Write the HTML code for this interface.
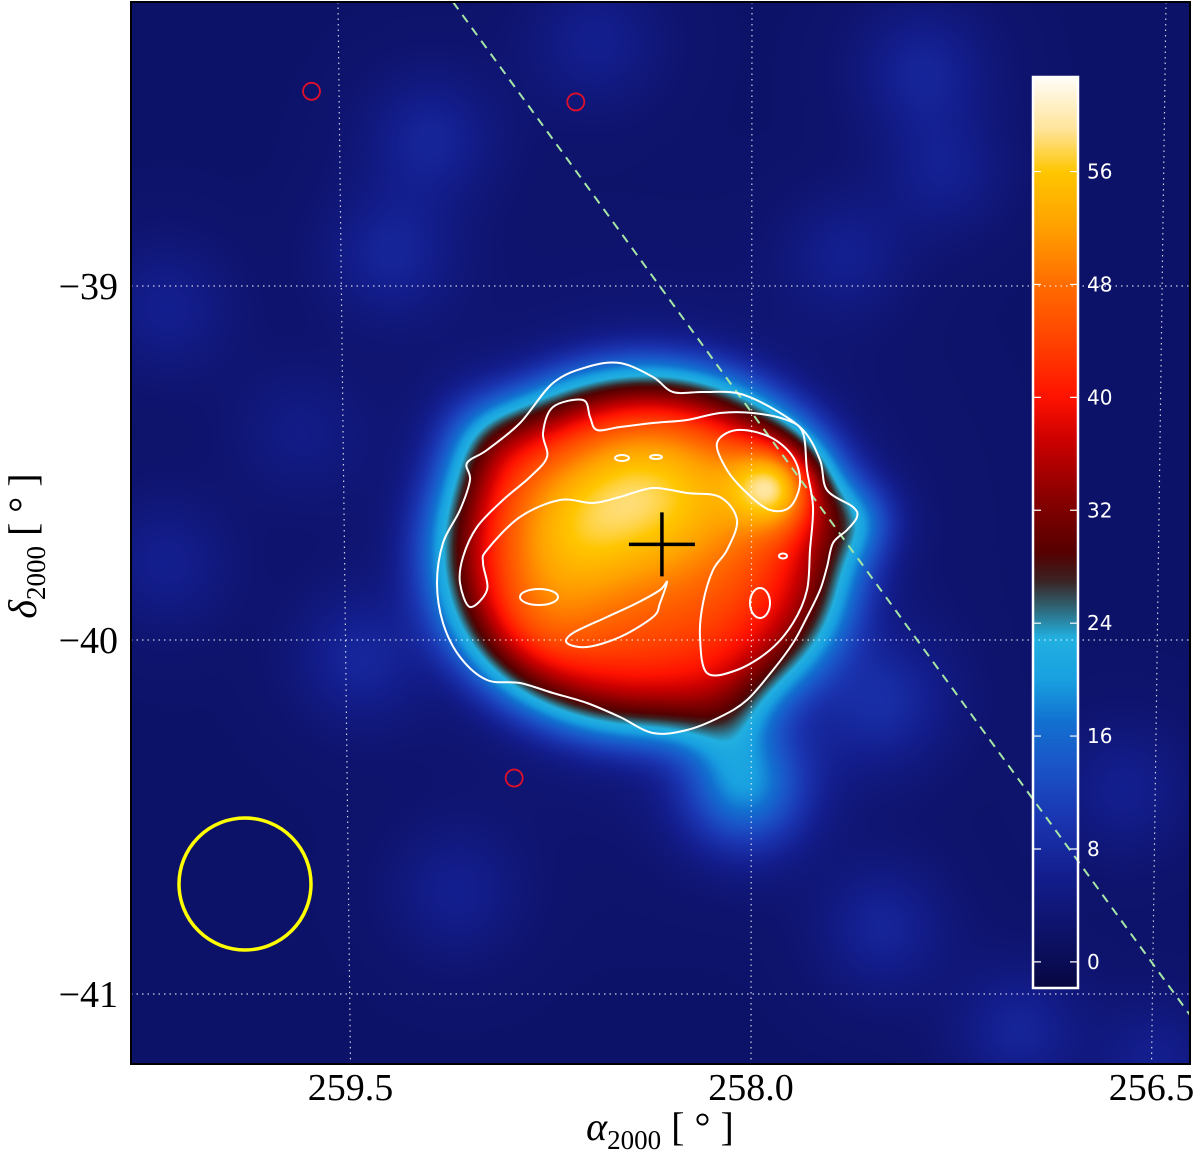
<!DOCTYPE html>
<html><head><meta charset="utf-8"><style>
html,body{margin:0;padding:0;background:#fff;}
#wrap{position:relative;width:1200px;height:1158px;overflow:hidden;font-family:"Liberation Serif",serif;}
canvas{position:absolute;left:0;top:0;}
svg{position:absolute;left:0;top:0;}
</style></head><body>
<div id="wrap">
<canvas id="cv" width="1200" height="1158"></canvas>
<svg id="sv" width="1200" height="1158"></svg>
</div>
<script>
// ---- data arrays (sky coordinates, degrees) ----
const coreRa=[258.40], coreDec=[-39.75], coreAmp=[36], coreSx=[0.78], coreSy=[0.52];
const blobRa =[258.40,258.66,258.25,257.91,258.02,259.00,257.59,259.17,258.57,257.38,257.30,259.32,260.14,260.16,259.45,257.51,259.10,257.00,256.62,257.66,257.52,259.66,256.49,258.80,258.08,258.45];
const blobDec=[-39.75,-39.68,-39.58,-39.56,-40.42,-39.41,-39.66,-38.58,-38.31,-38.39,-38.68,-38.91,-39.06,-39.78,-40.05,-40.81,-40.71,-41.10,-40.42,-38.91,-40.17,-39.41,-41.19,-39.95,-40.28,-39.52];
const blobAmp=[7,10,9,18,15,6,7,5,4,5,4,5,4,4,5,5,4,5,4,4,6,3,4,4,5,3];
const blobSig=[0.36,0.16,0.17,0.085,0.13,0.1,0.08,0.13,0.13,0.13,0.12,0.13,0.13,0.13,0.13,0.13,0.13,0.13,0.13,0.12,0.14,0.13,0.12,0.12,0.1,0.12];
const baseLevel=[2.2];
const cbTicks=[0,8,16,24,32,40,48,56];
const decTicks=[-39,-40,-41];
const raTicks=[259.5,258.0,256.5];
const cmapVal=[-2,0,6,10,14,17,20,23,25,27,29,33,37,40,44,48,52,56,59,63];
const cmapCol=["#06063e","#0a0c55","#131d8c","#1a34b0","#1a55c8","#1270d0","#18a0e0","#22b0e0","#2f6a7c","#3a2424","#550000","#8a0000","#cc0000","#ff1200","#ff4200","#ff6c00","#ffa000","#ffc600","#ffe49a","#ffffff"];
const srcRa=[259.60,258.64,258.88], srcDec=[-38.45,-38.48,-40.39];

// ---- axes ----
const PL=131,PR=1190,PT=2,PB=1064;
function yDec(d){return 640-(d+40)*354;}
function xRa(r,y){
  const t=(y-PT)/(PB-PT);
  const sc=276-9*t;
  return 752-1*t+(258.0-r)*sc;
}
function raOf(x,y){const t=(y-PT)/(PB-PT);const sc=276-9*t;return 258.0-(x-752+t)/sc;}
function decOf(y){return -40+(640-y)/354;}
const CB={x:1033,w:45,top:77,bot:988,vmin:-1.85,vmax:62.7};
function yCb(v){return CB.bot-(v-CB.vmin)/(CB.vmax-CB.vmin)*(CB.bot-CB.top);}

function hex(c){return [parseInt(c.substr(1,2),16),parseInt(c.substr(3,2),16),parseInt(c.substr(5,2),16)];}
const cmRGB=cmapCol.map(hex);
function cmap(v){
  if(v<=cmapVal[0])return cmRGB[0];
  for(let i=1;i<cmapVal.length;i++){if(v<=cmapVal[i]){const t=(v-cmapVal[i-1])/(cmapVal[i]-cmapVal[i-1]);const a=cmRGB[i-1],b=cmRGB[i];return [a[0]+(b[0]-a[0])*t,a[1]+(b[1]-a[1])*t,a[2]+(b[2]-a[2])*t];}}
  return cmRGB[cmRGB.length-1];
}
function field(ra,dec){
  let v=baseLevel[0];
  const cd=Math.cos(40*Math.PI/180);
  for(let k=0;k<coreRa.length;k++){
    const dx=(ra-coreRa[k])/coreSx[k], dy=(dec-coreDec[k])/coreSy[k];
    const r2=dx*dx+dy*dy; v+=coreAmp[k]*Math.exp(-r2*r2*r2);
  }
  for(let k=0;k<blobRa.length;k++){
    const dx=(ra-blobRa[k])*cd, dy=dec-blobDec[k];
    v+=blobAmp[k]*Math.exp(-(dx*dx+dy*dy)/(2*blobSig[k]*blobSig[k]));
  }
  return v;
}
const cv=document.getElementById('cv'),ctx=cv.getContext('2d');
ctx.fillStyle='#fff';ctx.fillRect(0,0,1200,1158);
const W=PR-PL,H=PB-PT;const img=ctx.createImageData(W,H);
for(let j=0;j<H;j++){const y=PT+j;const dec=decOf(y);
  for(let i=0;i<W;i++){const c=cmap(field(raOf(PL+i,y),dec));const p=(j*W+i)*4;img.data[p]=c[0];img.data[p+1]=c[1];img.data[p+2]=c[2];img.data[p+3]=255;}}
ctx.putImageData(img,PL,PT);
const cbH=CB.bot-CB.top;const cimg=ctx.createImageData(CB.w,cbH);
for(let j=0;j<cbH;j++){const v=CB.vmax-(j/cbH)*(CB.vmax-CB.vmin);const c=cmap(v);for(let i=0;i<CB.w;i++){const p=(j*CB.w+i)*4;cimg.data[p]=c[0];cimg.data[p+1]=c[1];cimg.data[p+2]=c[2];cimg.data[p+3]=255;}}
ctx.putImageData(cimg,CB.x,CB.top);

const NS='http://www.w3.org/2000/svg';const sv=document.getElementById('sv');
function mk(tag,at,parent){const e=document.createElementNS(NS,tag);for(const k in at)e.setAttribute(k,at[k]);(parent||sv).appendChild(e);return e;}
decTicks.forEach(d=>{const y=yDec(d);
  const l=mk('line',{x1:PL,x2:PR,y1:y,y2:y,stroke:'#ffffff','stroke-width':1.2,'stroke-dasharray':'1.5 4',opacity:0.8});
  
  const t=mk('text',{x:118,y:y+13,'text-anchor':'end','font-size':38,'font-family':'"Liberation Serif",serif',fill:'#000'});
  t.textContent='\u2212'+Math.abs(d);
});
raTicks.forEach(r=>{
  const l=mk('line',{x1:xRa(r,PT),x2:xRa(r,PB),y1:PT,y2:PB,stroke:'#ffffff','stroke-width':1.2,'stroke-dasharray':'1.5 4',opacity:0.8});
  
  const t=mk('text',{x:xRa(r,PB),y:1100,'text-anchor':'middle','font-size':38,'font-family':'"Liberation Serif",serif',fill:'#000'});
  t.textContent=r.toFixed(1);
});
const gp=mk('line',{x1:453,y1:PT,x2:PR,y2:1015,stroke:'#a6e6a6','stroke-width':2,'stroke-dasharray':'9 7'});


function smooth(pts){let d='M'+pts[0][0]+','+pts[0][1];const n=pts.length;
  for(let i=0;i<n;i++){const p0=pts[(i-1+n)%n],p1=pts[i],p2=pts[(i+1)%n],p3=pts[(i+2)%n];
    d+=' C'+(p1[0]+(p2[0]-p0[0])/6).toFixed(1)+','+(p1[1]+(p2[1]-p0[1])/6).toFixed(1)+' '+(p2[0]-(p3[0]-p1[0])/6).toFixed(1)+','+(p2[1]-(p3[1]-p1[1])/6).toFixed(1)+' '+p2[0]+','+p2[1];}
  return d+'Z';}
const contours=[
 [[620,363],[653,377],[673,392],[703,392],[737,393],[770,407],[803,430],[820,460],[827,490],[853,507],[857,517],[847,530],[833,543],[827,567],[820,590],[807,617],[793,643],[773,670],[747,700],[720,717],[687,730],[653,733],[620,717],[587,703],[553,693],[520,683],[487,680],[460,657],[443,623],[437,583],[443,543],[460,510],[470,480],[467,463],[487,450],[520,423],[553,383],[587,367]],
 [[470,607],[487,590],[483,563],[487,550],[520,517],[560,500],[593,503],[620,497],[653,488],[687,493],[720,497],[737,520],[727,550],[713,570],[703,603],[700,637],[707,673],[737,670],[770,650],[793,623],[807,590],[810,550],[813,507],[807,470],[803,433],[787,420],[753,413],[720,413],[687,420],[653,423],[620,427],[597,430],[590,417],[583,400],[553,407],[543,433],[547,457],[530,477],[503,500],[477,527],[463,557],[460,583]],
 [[717,443],[737,430],[770,437],[793,457],[800,483],[790,507],[770,510],[747,493],[727,470]],
 [[667,582],[660,590],[637,603],[607,617],[573,633],[567,643],[587,647],[620,637],[653,617],[660,603]]
];
contours.forEach(c=>{const p=mk('path',{d:smooth(c),fill:'none',stroke:'#fff','stroke-width':2});});
[[622,458,7,3],[656,457,6,2],[783,556,4,2.5],[539,597,19,8],[760,603,10,15]].forEach(e=>{
  const el=mk('ellipse',{cx:e[0],cy:e[1],rx:e[2],ry:e[3],fill:'none',stroke:'#fff','stroke-width':2});
  });

srcRa.forEach((r,i)=>{const y=yDec(srcDec[i]);const c=mk('circle',{cx:xRa(r,y),cy:y,r:8.5,fill:'none',stroke:'#e0102a','stroke-width':1.8});
  });
const cy=yDec(-39.73),cx=xRa(258.33,cy);
const cross=mk('path',{d:`M${cx-33},${cy}H${cx+33}M${cx},${cy-32}V${cy+32}`,stroke:'#000','stroke-width':3.5});

const psf=mk('circle',{cx:245,cy:884,r:66,fill:'none',stroke:'#ffff00','stroke-width':3.5});


const cbf=mk('rect',{x:CB.x,y:CB.top,width:CB.w,height:CB.bot-CB.top,fill:'none',stroke:'#fff','stroke-width':2.5});

cbTicks.forEach(v=>{const y=yCb(v);
  const a=mk('path',{d:`M${CB.x},${y}h8M${CB.x+CB.w},${y}h-8`,stroke:'#fff','stroke-width':1.2});
  
  const t=mk('text',{x:CB.x+CB.w+9,y:y+7,'font-size':20,'font-family':'"DejaVu Sans",sans-serif',fill:'#fff'});
  t.textContent=v;});

const fr=mk('rect',{x:PL,y:PT,width:PR-PL,height:PB-PT,fill:'none',stroke:'#000','stroke-width':2});


const xt=mk('text',{x:660,y:1140,'text-anchor':'middle','font-size':40,'font-family':'"Liberation Serif",serif',fill:'#000'});

xt.innerHTML='<tspan font-style="italic">α</tspan><tspan font-size="27" dy="9">2000</tspan><tspan dy="-9"> [ ° ]</tspan>';
const yt=mk('text',{x:0,y:0,'text-anchor':'middle','font-size':40,'font-family':'"Liberation Serif",serif',fill:'#000',transform:'translate(36,546) rotate(-90)'});

yt.innerHTML='<tspan font-style="italic">δ</tspan><tspan font-size="27" dy="9">2000</tspan><tspan dy="-9"> [ ° ]</tspan>';
</script>
</body></html>
